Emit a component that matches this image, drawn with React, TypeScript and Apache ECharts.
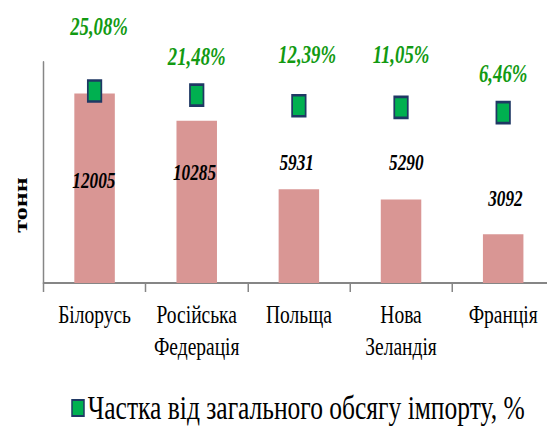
import React, { useEffect, useRef } from 'react';
import * as echarts from 'echarts';

// ---- data ----
const categories = ['Білорусь', 'Російська\nФедерація', 'Польща', 'Нова\nЗеландія', 'Франція'];
const tonnes = [12005, 10285, 5931, 5290, 3092];
const importShare = [25.08, 21.48, 12.39, 11.05, 6.46];
const shareSeriesName = 'Частка від загального обсягу імпорту, %';
const volumeSeriesName = 'Обсяг імпорту';
const unitLabel = 'тонн';

// ---- layout (the source picture is horizontally compressed) ----
const SQUEEZE = 0.75;
const VIEW_W = 547;
const VIEW_H = 426;
const CHART_W = 740;
const FONT = "'Liberation Serif', 'Times New Roman', serif";

// label nudges [dx, dy] per category
const barLabelNudge = [[-1, 104], [-3, 68], [-3, -10], [7, -20], [3, -19]];
const shareLabelNudge = [[6, -35], [0, -9], [11, -21], [0, -23], [0, -9]];

const axisGray = '#868686';

function buildOption() {
  return {
    animation: false,
    backgroundColor: '#ffffff',
    grid: { left: 58, top: 62, width: 681, height: 221 },
    legend: {
      data: [{ name: shareSeriesName, icon: 'rect' }],
      left: 95,
      top: 391,
      padding: 0,
      itemWidth: 16,
      itemHeight: 16,
      textStyle: { fontFamily: FONT, fontSize: 34, lineHeight: 34, color: '#000' },
    },
    graphic: [
      {
        type: 'text',
        x: 27,
        y: 205,
        rotation: Math.PI / 2,
        style: {
          text: unitLabel,
          font: `bold 26px ${FONT}`,
          fill: '#000',
          align: 'center',
          verticalAlign: 'middle',
        },
      },
    ],
    xAxis: {
      type: 'category',
      data: categories,
      axisLine: { show: true, lineStyle: { color: axisGray, width: 2 } },
      axisTick: { show: true, length: 9, lineStyle: { color: axisGray, width: 2 } },
      axisLabel: {
        interval: 0,
        margin: 16,
        fontFamily: FONT,
        fontSize: 26,
        lineHeight: 32,
        color: '#000',
      },
      splitLine: { show: false },
    },
    yAxis: [
      {
        type: 'value',
        min: 0,
        max: 14000,
        axisLine: { show: true, lineStyle: { color: axisGray, width: 2 } },
        axisTick: { show: false },
        axisLabel: { show: false },
        splitLine: { show: false },
      },
      {
        type: 'value',
        min: -140,
        max: 50,
        show: false,
        splitLine: { show: false },
      },
    ],
    series: [
      {
        name: volumeSeriesName,
        type: 'bar',
        barWidth: 54,
        itemStyle: { color: '#D99694' },
        label: {
          show: true,
          position: 'top',
          distance: 5,
          fontFamily: FONT,
          fontSize: 23,
          lineHeight: 24,
          fontWeight: 'bold',
          fontStyle: 'italic',
          color: '#000',
          formatter: (p: any) => String(p.value),
        },
        data: tonnes.map((v, i) => ({ value: v, label: { offset: barLabelNudge[i] } })),
      },
      {
        name: shareSeriesName,
        type: 'scatter',
        yAxisIndex: 1,
        symbol: 'rect',
        symbolSize: [18, 21],
        itemStyle: { color: '#00B050', borderColor: '#1F3864', borderWidth: 2.5, opacity: 1 },
        label: {
          show: true,
          position: 'top',
          distance: 5,
          fontFamily: FONT,
          fontSize: 25,
          lineHeight: 26,
          fontWeight: 'bold',
          fontStyle: 'italic',
          color: '#129A12',
          formatter: (p: any) => Number(p.value).toFixed(2).replace('.', ',') + '%',
        },
        data: importShare.map((v, i) => ({ value: v, label: { offset: shareLabelNudge[i] } })),
      },
    ],
  };
}

export default function App() {
  const ref = useRef<HTMLDivElement>(null);
  useEffect(() => {
    if (!ref.current) return;
    const chart = echarts.init(ref.current, null, { renderer: 'svg' });
    chart.setOption(buildOption() as any);
    return () => chart.dispose();
  }, []);
  return (
    <div
      style={{
        position: 'fixed',
        left: 0,
        top: 0,
        width: VIEW_W,
        height: VIEW_H,
        overflow: 'hidden',
        background: '#fff',
      }}
    >
      <div
        ref={ref}
        style={{
          width: CHART_W,
          height: VIEW_H,
          transform: `scaleX(${SQUEEZE})`,
          transformOrigin: '0 0',
        }}
      />
    </div>
  );
}
